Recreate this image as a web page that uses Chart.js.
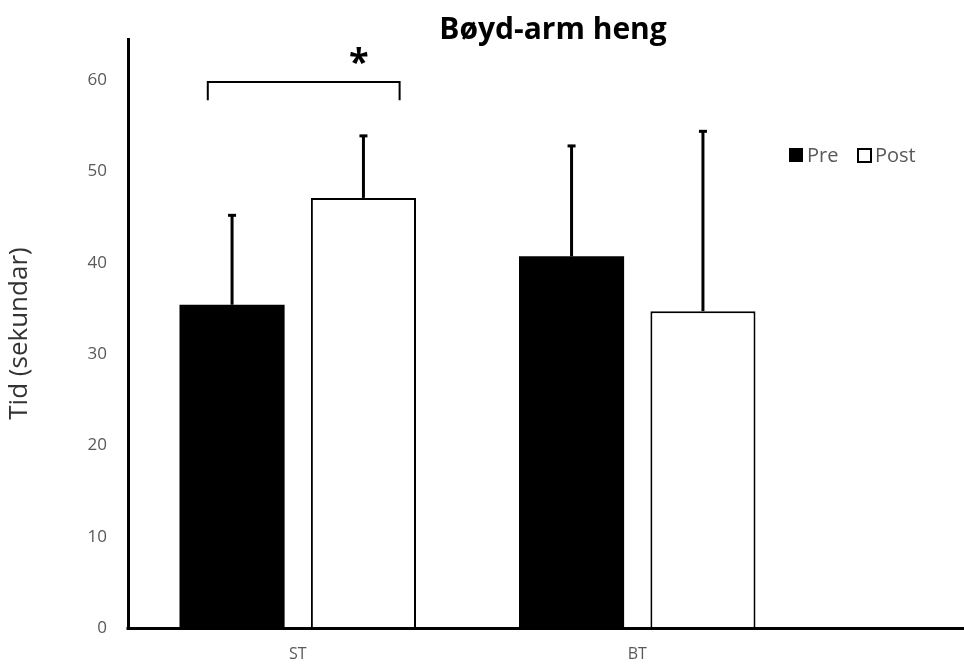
<!DOCTYPE html>
<html>
<head>
<meta charset="utf-8">
<script src="https://cdn.jsdelivr.net/npm/chart.js@4.4.1/dist/chart.umd.min.js"></script>
<style>
  html, body { margin: 0; padding: 0; background: #fff; }
  #wrap { width: 964px; height: 666px; }
</style>
</head>
<body>
<div id="wrap"><canvas id="chart"></canvas></div>
<script>
// Data
const categories = ['ST', 'BT'];
const seriesNames = ['Pre', 'Post'];
const preValues = [35.4, 40.7];
const postValues = [47.1, 34.7];
const preErrors = [9.9, 12.2];
const postErrors = [6.9, 19.8];
const yTickValues = [0, 10, 20, 30, 40, 50, 60];

// Significance bracket over ST (x in category-index units, y in data units)
const sigFrom = -0.265;
const sigTo = 0.3;
const sigTop = 59.8;
const sigBottom = 57.8;
const sigStarAt = 0.18;
const sigLabel = '*';

const TEXT_GREY = '#595959';
const FONT = "'Open Sans', sans-serif";

// Draws error bars, bracket, title, legend and the long x axis line
const extrasPlugin = {
    id: 'extras',
    afterDatasetsDraw(chart) {
        const ctx = chart.ctx;
        const y = chart.scales.y;
        const errs = [preErrors, postErrors];
        ctx.save();
        ctx.strokeStyle = '#000';
        ctx.lineWidth = 3;
        chart.data.datasets.forEach((ds, di) => {
            const meta = chart.getDatasetMeta(di);
            meta.data.forEach((bar, i) => {
                const top = y.getPixelForValue(ds.data[i] + errs[di][i]);
                ctx.beginPath();
                ctx.moveTo(bar.x, bar.y);
                ctx.lineTo(bar.x, top);
                ctx.stroke();
                ctx.beginPath();
                ctx.moveTo(bar.x - 4, top + 1);
                ctx.lineTo(bar.x + 4, top + 1);
                ctx.stroke();
            });
        });
        ctx.restore();
    },
    afterDraw(chart) {
        const ctx = chart.ctx;
        const x = chart.scales.x;
        const y = chart.scales.y;
        const area = chart.chartArea;
        const x0 = x.getPixelForValue(0);
        const step = x.getPixelForValue(1) - x0;
        const px = v => x0 + v * step;

        ctx.save();
        // x axis line runs past the last category to the edge
        ctx.strokeStyle = '#000';
        ctx.lineWidth = 3;
        ctx.beginPath();
        ctx.moveTo(area.left - 1.5, area.bottom + 0.5);
        ctx.lineTo(964, area.bottom + 0.5);
        ctx.stroke();

        // significance bracket
        ctx.lineWidth = 2;
        ctx.beginPath();
        ctx.moveTo(px(sigFrom), y.getPixelForValue(sigBottom));
        ctx.lineTo(px(sigFrom), y.getPixelForValue(sigTop));
        ctx.lineTo(px(sigTo), y.getPixelForValue(sigTop));
        ctx.lineTo(px(sigTo), y.getPixelForValue(sigBottom));
        ctx.stroke();
        ctx.fillStyle = '#000';
        ctx.font = "bold 36px " + FONT;
        ctx.textAlign = 'center';
        ctx.textBaseline = 'middle';
        ctx.fillText(sigLabel, px(sigStarAt), 64);

        // title
        ctx.font = "bold 30px " + FONT;
        ctx.fillText('Bøyd-arm heng', 553, 30);

        // legend
        ctx.font = "20px " + FONT;
        ctx.textAlign = 'left';
        ctx.fillStyle = '#000';
        ctx.fillRect(789, 148, 14, 14);
        ctx.fillStyle = TEXT_GREY;
        ctx.fillText(seriesNames[0], 807, 156);
        ctx.strokeStyle = '#000';
        ctx.lineWidth = 2;
        ctx.strokeRect(858, 149, 13, 13);
        ctx.fillText(seriesNames[1], 875, 156);
        ctx.restore();
    }
};

new Chart(document.getElementById('chart'), {
    type: 'bar',
    data: {
        labels: categories,
        datasets: [
            {
                label: seriesNames[0],
                data: preValues,
                backgroundColor: '#000',
                borderWidth: 0
            },
            {
                label: seriesNames[1],
                data: postValues,
                backgroundColor: '#fff',
                borderColor: '#000',
                borderWidth: 2
            }
        ]
    },
    options: {
        responsive: true,
        maintainAspectRatio: false,
        animation: false,
        categoryPercentage: 0.774,
        barPercentage: 0.8,
        layout: { padding: { left: 0, right: 157, top: 39, bottom: 0 } },
        plugins: {
            legend: { display: false },
            tooltip: { enabled: false }
        },
        scales: {
            x: {
                grid: { display: false, drawTicks: false },
                border: { display: false },
                ticks: { color: TEXT_GREY, font: { family: FONT, size: 16 }, padding: 17 },
                afterFit: s => { s.height = 38; }
            },
            y: {
                min: 0,
                max: 64.5,
                grid: { display: false, drawTicks: false },
                border: { color: '#000', width: 3 },
                ticks: { stepSize: 10, color: TEXT_GREY, font: { family: FONT, size: 17 }, padding: 21 },
                afterBuildTicks: s => {
                    s.ticks = yTickValues.map(v => ({ value: v }));
                },
                title: {
                    display: true,
                    text: 'Tid (sekundar)',
                    color: '#333',
                    font: { family: FONT, size: 26 },
                    padding: { top: 4, bottom: 0 }
                },
                afterFit: s => { s.width = 128; }
            }
        }
    },
    plugins: [extrasPlugin]
});
</script>
</body>
</html>
